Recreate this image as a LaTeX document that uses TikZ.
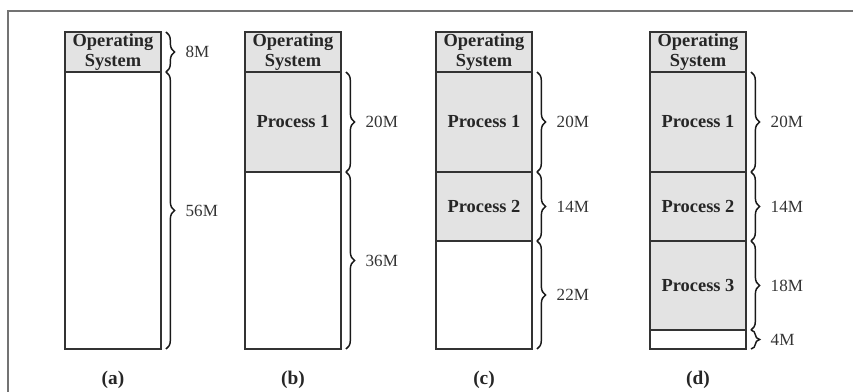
\documentclass[tikz,border=0pt]{standalone}
\usepackage{fontspec}
\setmainfont{Liberation Serif}
\usetikzlibrary{decorations.pathreplacing}

% one memory segment: #1 name, #2 left x, #3 top y, #4 bottom y, #5 style, #6 text
\newcommand\memseg[6]{%
  \draw[#5] (#2,#3) rectangle ({#2+96},#4);
  \node[part] (#1) at ({#2+48},{(#3+#4)/2}) {#6};
}
% brace beside a segment: #1 name, #2 left x of the column, #3 top y, #4 bottom y, #5 size
\newcommand\membrace[5]{%
  \coordinate (#1-t) at ({#2+101},#3);
  \coordinate (#1-b) at ({#2+101},#4);
  \draw[bracestyle] (#1-t) -- (#1-b);
  \node[sizelabel] (#1) at ({#2+116},{(#3+#4)/2}) {#5};
}

\begin{document}
\begin{tikzpicture}[x=0.75pt,y=-0.75pt,
  seg/.style={draw=black!80, line width=1.1pt},
  used/.style={seg, fill=black!11},
  part/.style={font=\fontsize{13.8}{14.6}\selectfont\bfseries, align=center, text=black!85},
  sizelabel/.style={font=\fontsize{12.8}{14}\selectfont, anchor=west, text=black!80},
  figlabel/.style={font=\fontsize{14.5}{15}\selectfont\bfseries, text=black!85},
  bracestyle/.style={decorate, decoration={brace, amplitude=6.5pt}, line width=1.1pt, black!90},
]
\useasboundingbox (0,0) rectangle (853,392);

% outer frame
\coordinate (fr-bl) at (8,392);
\coordinate (fr-tl) at (8,11);
\coordinate (fr-tr) at (853,11);
\draw[black!55, line width=0.8pt] (fr-bl) -- (fr-tl) -- (fr-tr);

% (a)
\memseg{a-os}{65}{32}{72}{used}{Operating\\System}
\memseg{a-free}{65}{72}{349}{seg}{}
\membrace{a-s1}{65}{32}{72}{8M}
\membrace{a-s2}{65}{72}{349}{56M}
\node[figlabel] (a-lab) at (113,380) {(a)};

% (b)
\memseg{b-os}{245}{32}{72}{used}{Operating\\System}
\memseg{b-p1}{245}{72}{172}{used}{Process 1}
\memseg{b-free}{245}{172}{349}{seg}{}
\membrace{b-s1}{245}{72}{172}{20M}
\membrace{b-s2}{245}{172}{349}{36M}
\node[figlabel] (b-lab) at (293,380) {(b)};

% (c)
\memseg{c-os}{436}{32}{72}{used}{Operating\\System}
\memseg{c-p1}{436}{72}{172}{used}{Process 1}
\memseg{c-p2}{436}{172}{241}{used}{Process 2}
\memseg{c-free}{436}{241}{349}{seg}{}
\membrace{c-s1}{436}{72}{172}{20M}
\membrace{c-s2}{436}{172}{241}{14M}
\membrace{c-s3}{436}{241}{349}{22M}
\node[figlabel] (c-lab) at (484,380) {(c)};

% (d)
\memseg{d-os}{650}{32}{72}{used}{Operating\\System}
\memseg{d-p1}{650}{72}{172}{used}{Process 1}
\memseg{d-p2}{650}{172}{241}{used}{Process 2}
\memseg{d-p3}{650}{241}{330}{used}{Process 3}
\memseg{d-free}{650}{330}{349}{seg}{}
\membrace{d-s1}{650}{72}{172}{20M}
\membrace{d-s2}{650}{172}{241}{14M}
\membrace{d-s3}{650}{241}{330}{18M}
\membrace{d-s4}{650}{330}{349}{4M}
\node[figlabel] (d-lab) at (698,380) {(d)};
\end{tikzpicture}
\end{document}
